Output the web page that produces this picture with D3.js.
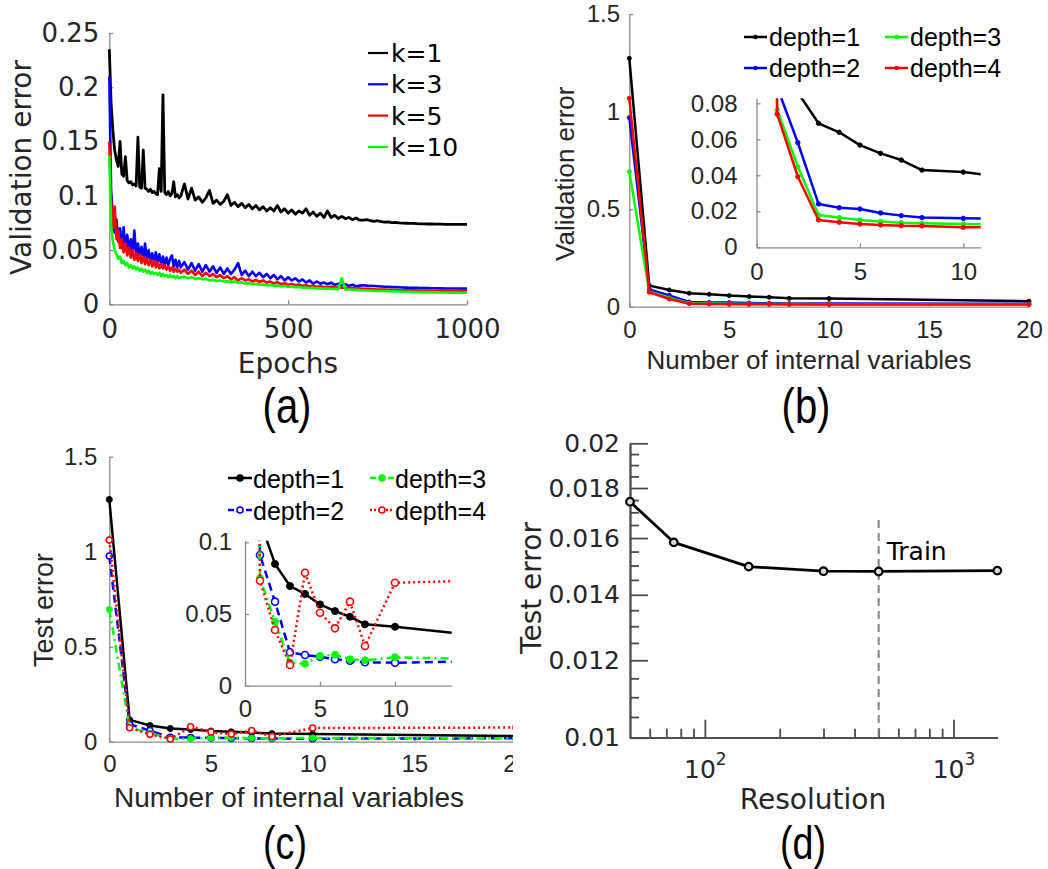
<!DOCTYPE html>
<html>
<head>
<meta charset="utf-8">
<script src="https://cdn.jsdelivr.net/npm/d3@7"></script>
<style>
  html, body { margin: 0; padding: 0; background: #fff; }
  svg { display: block; }
</style>
</head>
<body>
<svg id="fig" width="1048" height="869"></svg>
<script>
// ---------------- (a) validation error vs. epochs ----------------
const epochs = [0,5,10,15,20,25,30,35,40,45,50,55,60,65,70,75,80,85,90,95,100,105,110,115,120,125,130,135,140,145,150,155,160,165,170,175,180,185,190,195,200,
  210,220,230,240,250,260,270,280,290,300,310,320,330,340,350,360,370,380,390,400,410,420,430,440,450,460,470,480,490,500,
  510,520,530,540,550,560,570,580,590,600,610,620,630,640,650,660,670,680,690,700,710,720,730,740,750,760,770,780,790,800,
  810,820,830,840,850,860,870,880,890,900,910,920,930,940,950,960,970,980,990,1000];
const errK1 = [.235,.185,.160,.142,.133,.127,.150,.120,.118,.136,.114,.112,.113,.110,.111,.109,.154,.108,.107,.142,.107,.106,.104,.106,.103,.104,.102,.101,.125,.104,.193,.103,.101,.104,.100,.102,.113,.099,.101,.098,.100,
  .111,.097,.107,.096,.099,.094,.098,.105,.093,.096,.092,.095,.101,.091,.094,.090,.093,.089,.092,.088,
  .091,.087,.090,.086,.089,.086,.091,.085,.088,.084,.087,.083,.086,.084,.088,.082,.085,.081,.084,.080,
  .086,.080,.082,.079,.081,.079,.080,.078,.0795,.0775,.0775,.078,.077,.0765,.077,.0762,.0758,.076,.0752,.0755,
  .075,.0748,.0747,.0745,.0746,.0743,.0742,.0741,.074,.074,.0739,.0738,.0738,.0737,.0737,.0737,.0736,.0736,.0736,.0736];
const errK3 = [.210,.105,.080,.066,.078,.058,.070,.052,.071,.050,.064,.048,.060,.047,.068,.045,.056,.044,.053,.042,.056,.041,.050,.040,.047,.039,.048,.038,.046,.037,.044,.036,.043,.036,.042,.045,.035,.041,.034,.040,.034,
  .039,.032,.038,.031,.037,.030,.036,.030,.035,.029,.034,.028,.033,.028,.032,.038,.027,.031,.026,.030,
  .026,.029,.025,.028,.024,.027,.023,.026,.022,.025,.022,.024,.021,.023,.020,.022,.019,.021,.019,.020,
  .0185,.020,.018,.019,.0175,.0185,.017,.018,.0165,.0172,.0175,.0172,.017,.0168,.0166,.0164,.0162,.0161,.0159,.0158,
  .0157,.0155,.0154,.0153,.0152,.0151,.015,.015,.0149,.0148,.0148,.0147,.0147,.0146,.0146,.0145,.0145,.0145,.0144,.0144];
const errK5 = [.150,.095,.070,.090,.060,.068,.052,.060,.048,.056,.045,.052,.043,.050,.041,.047,.040,.046,.038,.044,.037,.042,.036,.041,.035,.040,.034,.039,.033,.037,.033,.036,.032,.035,.031,.034,.030,.033,.030,.032,.029,
  .032,.028,.031,.027,.030,.026,.029,.026,.028,.025,.027,.024,.026,.023,.025,.022,.024,.022,.023,.021,
  .0225,.0205,.022,.020,.021,.019,.0205,.0185,.0195,.018,.0188,.0175,.0182,.017,.0176,.0165,.017,.016,.0165,.0158,
  .016,.0162,.0156,.0158,.0153,.0152,.015,.0149,.0147,.0145,.0143,.0142,.014,.0139,.0137,.0136,.0135,.0134,.0133,.0132,
  .0131,.013,.0129,.0129,.0128,.0127,.0127,.0126,.0126,.0125,.0125,.0124,.0124,.0124,.0123,.0123,.0123,.0123,.0123,.0123];
const errK10 = [.137,.072,.058,.050,.046,.042,.044,.038,.040,.036,.038,.034,.036,.033,.035,.032,.034,.031,.033,.030,.032,.029,.031,.028,.030,.028,.029,.027,.029,.026,.028,.026,.027,.025,.027,.025,.026,.024,.026,.024,.025,
  .0255,.024,.025,.0235,.024,.023,.0235,.022,.0225,.0215,.022,.021,.0212,.0205,.021,.0198,.0202,.0192,.0195,.0185,
  .019,.018,.0183,.0175,.0178,.017,.0172,.0166,.0168,.0162,.0163,.0158,.0159,.0154,.0155,.015,.0151,.0147,.0148,.0144,
  .0145,.0141,.0142,.0139,.024,.0137,.0136,.0134,.0133,.0131,.013,.0128,.0127,.0126,.0124,.0123,.0122,.0121,.012,.0119,
  .0118,.0117,.0116,.0115,.0114,.0114,.0113,.0112,.0112,.0111,.011,.011,.0109,.0109,.0108,.0108,.0108,.0107,.0107,.0107];
const kLabels = ["k=1", "k=3", "k=5", "k=10"];
const kColors = ["#000000", "#0000ff", "#ff0000", "#00ff00"];
const epochTicks = [0, 500, 1000];
const valErrTicksA = [0, 0.05, 0.1, 0.15, 0.2, 0.25];

// ---------------- (b)/(c) error vs. number of internal variables ----------------
const nVars = [0, 1, 2, 3, 4, 5, 6, 7, 8, 10, 20];
const valDepth1 = [1.273, 0.108, 0.086, 0.0689, 0.0639, 0.0568, 0.0522, 0.0485, 0.0429, 0.0418, 0.028];
const valDepth2 = [0.969, 0.089, 0.0581, 0.0241, 0.022, 0.0213, 0.0191, 0.0176, 0.0165, 0.0161, 0.0152];
const valDepth3 = [0.692, 0.0763, 0.0448, 0.0179, 0.0165, 0.0152, 0.0144, 0.0137, 0.0133, 0.0129, 0.0122];
const valDepth4 = [1.068, 0.074, 0.0392, 0.0152, 0.0139, 0.0129, 0.0124, 0.012, 0.0119, 0.0111, 0.0108];
const testDepth1 = [1.275, 0.115, 0.0849, 0.0695, 0.064, 0.0567, 0.052, 0.0481, 0.0428, 0.0411, 0.030];
const testDepth2 = [0.977, 0.0911, 0.0586, 0.0233, 0.0214, 0.0202, 0.0184, 0.0174, 0.0163, 0.016, 0.018];
const testDepth3 = [0.696, 0.0749, 0.0446, 0.016, 0.0153, 0.0207, 0.0216, 0.0184, 0.0177, 0.0198, 0.0175];
const testDepth4 = [1.061, 0.0732, 0.0388, 0.0144, 0.0788, 0.0509, 0.04, 0.0586, 0.0277, 0.0718, 0.0745];
const depthLabels = ["depth=1", "depth=2", "depth=3", "depth=4"];
const depthColors = ["#000000", "#0000ff", "#00ff00", "#ff0000"];
const varTicks = [0, 5, 10, 15, 20];
const errTicksMain = [0, 0.5, 1, 1.5];
const insetVarTicksB = [0, 5, 10];
const insetErrTicksB = [0, 0.02, 0.04, 0.06, 0.08];
const insetVarTicksC = [0, 5, 10];
const insetErrTicksC = [0, 0.05, 0.1];

// ---------------- (d) test error vs. resolution ----------------
const resolution = [50, 75, 150, 300, 500, 1500];
const testErrRes = [0.01743, 0.01584, 0.01496, 0.0148, 0.01479, 0.01482];
const trainResolution = 500;
const resMajorTicks = [100, 1000];
const resMajorExp = ["2", "3"];
const resMinorTicks = [60, 70, 80, 90, 200, 300, 400, 500, 600, 700, 800, 900];
const testErrTicksD = [0.01, 0.012, 0.014, 0.016, 0.018, 0.02];
const testErrMinorD = [0.0105, 0.011, 0.0115, 0.0125, 0.013, 0.0135, 0.0145, 0.015, 0.0155,
  0.0165, 0.017, 0.0175, 0.0185, 0.019, 0.0195];
const panelTags = ["(a)", "(b)", "(c)", "(d)"];

// ---------------- shared helpers ----------------
const svg = d3.select("#fig");
const DEJAVU = "'DejaVu Sans', Verdana, sans-serif";
const ARIAL = "'Liberation Sans', Arial, sans-serif";
const fmt = d3.format("~g");

function styleAxis(g, font, size, spine, width) {
  g.attr("font-family", null).attr("font-size", null);
  g.select(".domain").attr("stroke", spine).attr("stroke-width", width);
  g.selectAll(".tick line").attr("stroke", spine).attr("stroke-width", width);
  g.selectAll(".tick text").attr("font-family", font).attr("font-size", size).attr("fill", "#262626");
}

function text(parent, str, x, y, opts) {
  const t = parent.append("text").attr("x", x).attr("y", y).text(str)
    .attr("font-family", opts.font).attr("font-size", opts.size)
    .attr("fill", opts.fill || "#262626")
    .attr("text-anchor", opts.anchor || "start");
  if (opts.rotate) t.attr("transform", `rotate(-90,${x},${y})`);
  return t;
}

// condensed sub-figure tag, e.g. "(a)"
function tag(str, cx, baseline, size) {
  svg.append("text").attr("transform", `translate(${cx},${baseline}) scale(0.8,1)`)
    .attr("text-anchor", "middle").attr("font-family", ARIAL).attr("font-size", size)
    .attr("fill", "#000").text(str);
}

function xAxisAt(parent, scale, y, ticks, tick, pad, font, size, spine, width) {
  const g = parent.append("g").attr("transform", `translate(0,${y})`)
    .call(d3.axisBottom(scale).tickValues(ticks).tickFormat(fmt)
      .tickSizeInner(-tick).tickSizeOuter(0).tickPadding(pad));
  styleAxis(g, font, size, spine, width);
  return g;
}
function yAxisAt(parent, scale, x, ticks, tick, pad, font, size, spine, width) {
  const g = parent.append("g").attr("transform", `translate(${x},0)`)
    .call(d3.axisLeft(scale).tickValues(ticks).tickFormat(fmt)
      .tickSizeInner(-tick).tickSizeOuter(0).tickPadding(pad));
  styleAxis(g, font, size, spine, width);
  return g;
}

const defs = svg.append("defs");

// ================= panel (a) =================
{
  const x = d3.scaleLinear().domain([0, 1000]).range([109.3, 467]);
  const y = d3.scaleLinear().domain([0, 0.25]).range([304.3, 33]);
  const g = svg.append("g");
  xAxisAt(g, x, 304.3, epochTicks, 4, 15, DEJAVU, 26, "#8a8a8a", 1.3);
  yAxisAt(g, y, 109.3, valErrTicksA, 4, 10, DEJAVU, 26, "#8a8a8a", 1.3);

  const series = [errK1, errK3, errK5, errK10];
  const line = d3.line().x((d, i) => x(epochs[i])).y(d => y(d));
  series.forEach((s, k) => {
    g.append("path").datum(s).attr("d", line)
      .attr("fill", "none").attr("stroke", kColors[k])
      .attr("stroke-width", k === 0 ? 2.8 : 2.6).attr("stroke-linejoin", "round");
  });

  // legend
  kLabels.forEach((lab, k) => {
    const ly = 53 + 31.3 * k;
    g.append("line").attr("x1", 368).attr("x2", 388).attr("y1", ly).attr("y2", ly)
      .attr("stroke", kColors[k]).attr("stroke-width", 2.2);
    text(g, lab, 391, ly + 9, { font: DEJAVU, size: 25, fill: "#000" });
  });

  text(g, "Validation error", 30.7, 167.5, { font: DEJAVU, size: 28, anchor: "middle", rotate: true });
  text(g, "Epochs", 288, 373, { font: DEJAVU, size: 28, anchor: "middle" });
  tag(panelTags[0], 287, 422.5, 50);
}

// markers for the (b)/(c) series
function markers(g, xs, ys, xv, yv, color, r, open) {
  g.selectAll(null).data(yv).enter().append("circle")
    .attr("cx", (d, i) => xs(xv[i])).attr("cy", d => ys(d)).attr("r", r)
    .attr("fill", open ? "#fff" : color).attr("stroke", color).attr("stroke-width", open ? 1.6 : 1);
}

// ================= panel (b) =================
{
  const x = d3.scaleLinear().domain([0, 20]).range([629.3, 1029]);
  const y = d3.scaleLinear().domain([0, 1.5]).range([306.7, 14]);
  const g = svg.append("g");
  xAxisAt(g, x, 306.7, varTicks, 4, 14.3, ARIAL, 24, "#8a8a8a", 1.3);
  yAxisAt(g, y, 629.3, errTicksMain, 4, 9.3, ARIAL, 24, "#8a8a8a", 1.3);

  const series = [valDepth1, valDepth2, valDepth3, valDepth4];
  const drawOrder = [0, 1, 2, 3];
  const line = d3.line().x((d, i) => x(nVars[i])).y(d => y(d));
  drawOrder.forEach(k => {
    g.append("path").datum(series[k]).attr("d", line).attr("fill", "none")
      .attr("stroke", depthColors[k]).attr("stroke-width", 2.5).attr("stroke-linejoin", "round");
    markers(g, x, y, nVars, series[k], depthColors[k], 2, false);
  });

  // legend (two columns)
  const pos = [[744, 37], [744, 68], [885, 37], [885, 68]];
  depthLabels.forEach((lab, k) => {
    const [lx, ly] = pos[k];
    g.append("line").attr("x1", lx).attr("x2", lx + 23).attr("y1", ly).attr("y2", ly)
      .attr("stroke", depthColors[k]).attr("stroke-width", 2.5);
    g.append("circle").attr("cx", lx + 11.5).attr("cy", ly).attr("r", 2.2).attr("fill", depthColors[k]);
    text(g, lab, lx + 25, ly + 9, { font: ARIAL, size: 25, fill: "#000" });
  });

  // inset zoom
  const xi = d3.scaleLinear().domain([0, 10.84]).range([756.5, 980.7]);
  const yi = d3.scaleLinear().domain([0, 0.0828]).range([247.3, 98.3]);
  defs.append("clipPath").attr("id", "clipInsetB").append("rect")
    .attr("x", 756.5).attr("y", 98.3).attr("width", 980.7 - 756.5).attr("height", 247.3 - 98.3);
  const gi = g.append("g");
  gi.append("rect").attr("x", 756.5).attr("y", 98.3).attr("width", 980.7 - 756.5)
    .attr("height", 247.3 - 98.3).attr("fill", "#fff");
  xAxisAt(gi, xi, 247.3, insetVarTicksB, 4, 15.7, ARIAL, 24, "#8a8a8a", 1.3);
  yAxisAt(gi, yi, 756.5, insetErrTicksB, 4, 19, ARIAL, 24, "#8a8a8a", 1.3);
  const linei = d3.line().x((d, i) => xi(nVars[i])).y(d => yi(d));
  const gc = gi.append("g").attr("clip-path", "url(#clipInsetB)");
  drawOrder.forEach(k => {
    gc.append("path").datum(series[k]).attr("d", linei).attr("fill", "none")
      .attr("stroke", depthColors[k]).attr("stroke-width", 2.5).attr("stroke-linejoin", "round");
    markers(gc, xi, yi, nVars, series[k], depthColors[k], 2.2, false);
  });

  text(g, "Validation error", 574, 173.7, { font: ARIAL, size: 26, anchor: "middle", rotate: true });
  text(g, "Number of internal variables", 809, 369.3, { font: ARIAL, size: 26, anchor: "middle" });
  tag(panelTags[1], 806, 422.5, 50);
}

// ================= panel (c) =================
{
  defs.append("clipPath").attr("id", "clipPanelC").append("rect")
    .attr("x", 0).attr("y", 430).attr("width", 513).attr("height", 439);
  const x = d3.scaleLinear().domain([0, 20]).range([109.3, 516]);
  const y = d3.scaleLinear().domain([0, 1.5]).range([741.7, 456.7]);
  const g = svg.append("g").attr("clip-path", "url(#clipPanelC)");
  xAxisAt(g, x, 741.7, varTicks, 4, 13.3, ARIAL, 24, "#8a8a8a", 1.3);
  yAxisAt(g, y, 109.3, errTicksMain, 4, 12, ARIAL, 24, "#8a8a8a", 1.3);

  const series = [testDepth1, testDepth2, testDepth3, testDepth4];
  const dashes = [null, "8,5", "8,4,2,4", "2,3"];
  const open = [false, true, false, true];
  const drawOrder = [0, 1, 2, 3];
  const line = d3.line().x((d, i) => x(nVars[i])).y(d => y(d));
  drawOrder.forEach(k => {
    g.append("path").datum(series[k]).attr("d", line).attr("fill", "none")
      .attr("stroke", depthColors[k]).attr("stroke-width", 2.5)
      .attr("stroke-dasharray", dashes[k]).attr("stroke-linejoin", "round");
    markers(g, x, y, nVars, series[k], depthColors[k], 3, open[k]);
  });

  // legend
  const pos = [[228, 478], [228, 510], [370, 478], [370, 510]];
  depthLabels.forEach((lab, k) => {
    const [lx, ly] = pos[k];
    g.append("line").attr("x1", lx).attr("x2", lx + 24).attr("y1", ly).attr("y2", ly)
      .attr("stroke", depthColors[k]).attr("stroke-width", 2.5)
      .attr("stroke-dasharray", k === 3 ? "2,2" : (k === 0 ? null : "6,3"));
    g.append("circle").attr("cx", lx + 12).attr("cy", ly).attr("r", 3)
      .attr("fill", open[k] ? "#fff" : depthColors[k]).attr("stroke", depthColors[k]).attr("stroke-width", 1.6);
    text(g, lab, lx + 25, ly + 10, { font: ARIAL, size: 25, fill: "#000" });
  });

  // inset zoom
  const xi = d3.scaleLinear().domain([0, 13.78]).range([245, 451.7]);
  const yi = d3.scaleLinear().domain([0, 0.1011]).range([685.7, 540.7]);
  defs.append("clipPath").attr("id", "clipInsetC").append("rect")
    .attr("x", 245).attr("y", 540.7).attr("width", 451.7 - 245).attr("height", 685.7 - 540.7);
  const gi = g.append("g");
  gi.append("rect").attr("x", 245).attr("y", 540.7).attr("width", 451.7 - 245)
    .attr("height", 685.7 - 540.7).attr("fill", "#fff");
  xAxisAt(gi, xi, 685.7, insetVarTicksC, 4, 14.3, ARIAL, 24, "#8a8a8a", 1.3);
  yAxisAt(gi, yi, 245, insetErrTicksC, 4, 13, ARIAL, 24, "#8a8a8a", 1.3);
  const linei = d3.line().x((d, i) => xi(nVars[i])).y(d => yi(d));
  const gc = gi.append("g").attr("clip-path", "url(#clipInsetC)");
  drawOrder.forEach(k => {
    gc.append("path").datum(series[k]).attr("d", linei).attr("fill", "none")
      .attr("stroke", depthColors[k]).attr("stroke-width", 2.5)
      .attr("stroke-dasharray", dashes[k]).attr("stroke-linejoin", "round");
    markers(gc, xi, yi, nVars, series[k], depthColors[k], 3.5, open[k]);
  });

  text(g, "Test error", 53, 610, { font: ARIAL, size: 27, anchor: "middle", rotate: true });
  text(g, "Number of internal variables", 289, 806.7, { font: ARIAL, size: 28, anchor: "middle" });
  tag(panelTags[2], 285, 858.5, 47);
}

// ================= panel (d) =================
{
  const x = d3.scaleLog().domain([50, 1500]).range([630, 997.3]);
  const y = d3.scaleLog().domain([0.01, 0.02]).range([737.7, 443.3]);
  const g = svg.append("g");
  const spine = "#4a4a4a";

  // minor ticks first (no labels)
  const gxm = g.append("g").attr("transform", "translate(0,737.7)")
    .call(d3.axisBottom(x).tickValues(resMinorTicks).tickFormat("").tickSizeInner(-9).tickSizeOuter(0));
  styleAxis(gxm, DEJAVU, 25, spine, 1.8);
  const gym = g.append("g").attr("transform", "translate(630,0)")
    .call(d3.axisLeft(y).tickValues(testErrMinorD).tickFormat("").tickSizeInner(-9).tickSizeOuter(0));
  styleAxis(gym, DEJAVU, 25, spine, 1.8);

  // major ticks with labels
  const gx = g.append("g").attr("transform", "translate(0,737.7)")
    .call(d3.axisBottom(x).tickValues(resMajorTicks).tickFormat(() => "")
      .tickSizeInner(-18).tickSizeOuter(0).tickPadding(22.5));
  styleAxis(gx, DEJAVU, 25, spine, 1.8);
  gx.selectAll(".tick text").each(function (d, i) {
    const t = d3.select(this);
    t.append("tspan").text("10");
    t.append("tspan").attr("font-size", 17).attr("dy", "-0.75em").text(resMajorExp[i]);
  });
  const gy = g.append("g").attr("transform", "translate(630,0)")
    .call(d3.axisLeft(y).tickValues(testErrTicksD).tickFormat(fmt)
      .tickSizeInner(-18).tickSizeOuter(0).tickPadding(10));
  styleAxis(gy, DEJAVU, 25, spine, 1.8);

  // training resolution marker
  g.append("line").attr("x1", x(trainResolution)).attr("x2", x(trainResolution))
    .attr("y1", 520).attr("y2", 737.7)
    .attr("stroke", "#808080").attr("stroke-width", 2).attr("stroke-dasharray", "8,5");
  text(g, "Train", 886.7, 560, { font: DEJAVU, size: 25, fill: "#000" });

  const line = d3.line().x((d, i) => x(resolution[i])).y(d => y(d));
  g.append("path").datum(testErrRes).attr("d", line).attr("fill", "none")
    .attr("stroke", "#000").attr("stroke-width", 2.8).attr("stroke-linejoin", "round");
  g.selectAll(null).data(testErrRes).enter().append("circle")
    .attr("cx", (d, i) => x(resolution[i])).attr("cy", d => y(d)).attr("r", 3.8)
    .attr("fill", "#d8d8d8").attr("stroke", "#000").attr("stroke-width", 2.2);

  text(g, "Test error", 541, 588, { font: DEJAVU, size: 28, anchor: "middle", rotate: true });
  text(g, "Resolution", 813, 809, { font: DEJAVU, size: 28, anchor: "middle" });
  tag(panelTags[3], 803, 858.5, 47);
}
</script>
</body>
</html>
